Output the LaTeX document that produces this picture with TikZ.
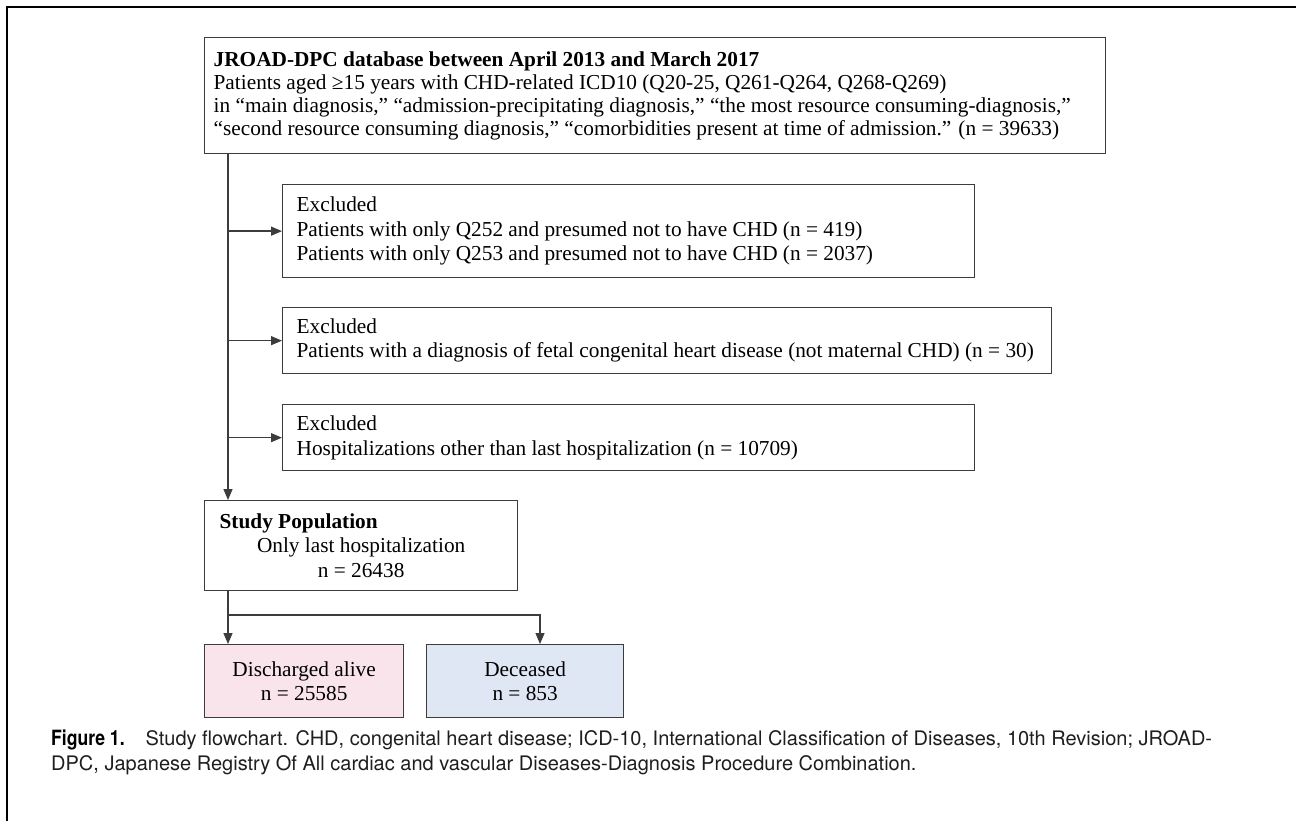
\documentclass[tikz,border=0pt]{standalone}
\usepackage{fontspec}
\setmainfont{Liberation Serif}
\newfontfamily\capfont{TeX Gyre Heros}
\usetikzlibrary{arrows.meta}
\definecolor{linegray}{RGB}{60,60,60}
\definecolor{pinkfill}{RGB}{250,228,236}
\definecolor{bluefill}{RGB}{224,231,244}
\definecolor{captext}{RGB}{30,30,30}
\newcommand{\boxfnt}[1]{\fontsize{21.3}{#1}\selectfont}
\newcommand{\nsp}{\spaceskip=0pt\xspaceskip=0pt\relax}
\newcommand{\ctrline}[1]{\makebox[\linewidth][c]{#1}}
\tikzset{
  box/.style={draw=linegray, line width=1.3pt, anchor=north west, inner ysep=0pt,
    align=left, font=\boxfnt{24.5}},
  conn/.style={draw=linegray, line width=1.3pt},
  arr/.style={conn, -{Triangle[length=11pt,width=9pt]}},
  frame/.style={draw=black, line width=2pt}
}
\begin{document}
\begin{tikzpicture}[x=1pt,y=-1pt]
\useasboundingbox (0,0) rectangle (1296,821);
\draw[frame] (7,821) -- (7,7) -- (1296,7);

\node[box, inner xsep=9pt, text width=883pt, minimum height=116pt,
  font=\boxfnt{23}] (top) at (204,37)
  {\nsp\textbf{JROAD-DPC database between April 2013 and March 2017}\\
   Patients aged ≥15 years with CHD-related ICD10 (Q20-25, Q261-Q264, Q268-Q269)\\
   in “main diagnosis,” “admission-precipitating diagnosis,” “the most resource consuming-diagnosis,”\\
   “second resource consuming diagnosis,” “comorbidities present at time of admission.” (n = 39633)};

\node[box, inner xsep=14pt, text width=664pt, minimum height=93pt] (ex1) at (282,184)
  {\nsp Excluded\\
   Patients with only Q252 and presumed not to have CHD (n = 419)\\
   Patients with only Q253 and presumed not to have CHD (n = 2037)};

\node[box, inner xsep=14pt, text width=741pt, minimum height=66pt] (ex2) at (282,307)
  {\nsp Excluded\\
   Patients with a diagnosis of fetal congenital heart disease (not maternal CHD) (n = 30)};

\node[box, inner xsep=14pt, text width=664pt, minimum height=66pt] (ex3) at (282,404)
  {\nsp Excluded\\
   Hospitalizations other than last hospitalization (n = 10709)};

\node[box, inner xsep=15pt, text width=283pt, minimum height=90pt] (study) at (204,500)
  {\nsp\makebox[\linewidth][l]{\textbf{Study Population}}\\
   \ctrline{Only last hospitalization}\\
   \ctrline{n = 26438}};

\node[box, fill=pinkfill, inner xsep=0pt, text width=199pt, minimum height=73pt] (alive) at (204,644)
  {\nsp\ctrline{Discharged alive}\\ \ctrline{n = 25585}};
\node[box, fill=bluefill, inner xsep=0pt, text width=197pt, minimum height=73pt] (dead) at (426,644)
  {\nsp\ctrline{Deceased}\\ \ctrline{n = 853}};

\coordinate (trunk) at (228,0);
\coordinate (rbranch) at (540,0);
\coordinate (split) at (228,615);

\draw[arr] (top.south -| trunk) -- (study.north -| trunk);
\draw[arr] (ex1.west -| trunk) -- (ex1.west);
\draw[arr] (ex2.west -| trunk) -- (ex2.west);
\draw[arr] (ex3.west -| trunk) -- (ex3.west);
\draw[arr] (study.south -| trunk) -- (alive.north -| trunk);
\draw[arr] (split) -| (dead.north -| rbranch);

\node[anchor=north west, inner sep=0pt, align=left, text=captext,
  font=\capfont\fontsize{20}{25}\selectfont] (cap) at (51,730)
  {{\color{black}\bfseries\scalebox{0.88}[1.05]{Figure 1.}}\hspace{1.05em}Study flowchart. CHD, congenital heart disease; ICD-10, International Classification of Diseases, 10th Revision; JROAD-\\
   DPC, Japanese Registry Of All cardiac and vascular Diseases-Diagnosis Procedure Combination.};
\end{tikzpicture}
\end{document}
